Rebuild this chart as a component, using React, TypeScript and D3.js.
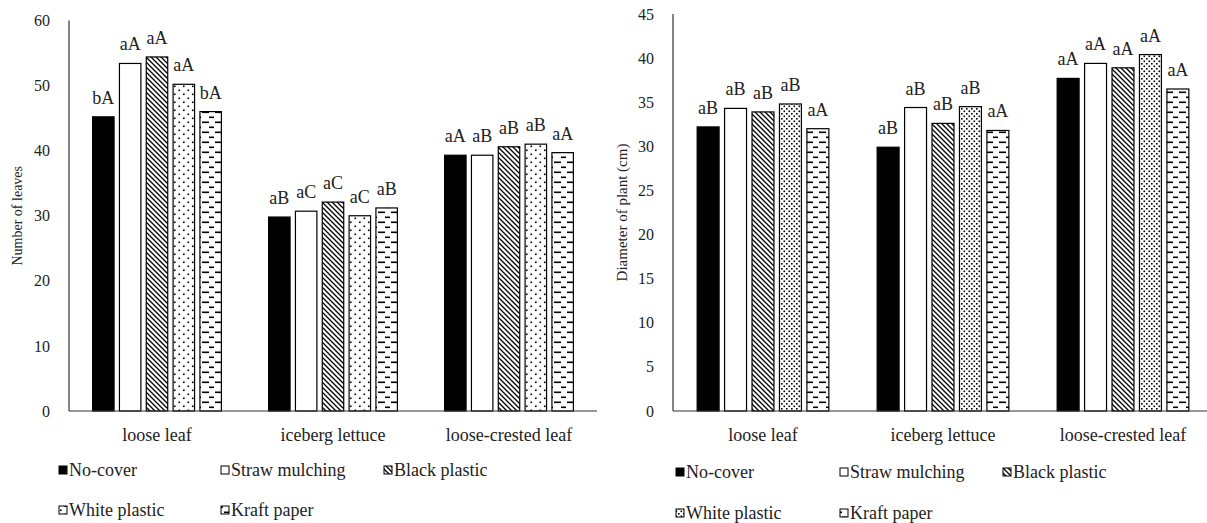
import React from 'react'
import * as d3 from 'd3'

// lettuce types on the x axis
const categories = ['loose leaf', 'iceberg lettuce', 'loose-crested leaf']
const treatments = ['No-cover', 'Straw mulching', 'Black plastic', 'White plastic', 'Kraft paper']

// number of leaves, one row per lettuce type, one column per treatment
const leavesValues = [
	[45.2, 53.4, 54.4, 50.2, 46.0],
	[29.8, 30.7, 32.1, 30.0, 31.2],
	[39.3, 39.3, 40.6, 41.0, 39.7],
]
const leavesLetters = [
	['bA', 'aA', 'aA', 'aA', 'bA'],
	['aB', 'aC', 'aC', 'aC', 'aB'],
	['aA', 'aB', 'aB', 'aB', 'aA'],
]
const leavesTicks = [0, 10, 20, 30, 40, 50, 60]

// diameter of plant (cm)
const diameterValues = [
	[32.2, 34.3, 33.9, 34.8, 32.0],
	[29.9, 34.4, 32.6, 34.5, 31.8],
	[37.7, 39.4, 38.9, 40.4, 36.5],
]
const diameterLetters = [
	['aB', 'aB', 'aB', 'aB', 'aA'],
	['aB', 'aB', 'aB', 'aB', 'aA'],
	['aA', 'aA', 'aA', 'aA', 'aA'],
]
const diameterTicks = [0, 5, 10, 15, 20, 25, 30, 35, 40, 45]

const FONT = "'Liberation Serif', 'Times New Roman', 'DejaVu Serif', serif"

const Patterns = ({ id, dense }) => (
	<defs>
		<pattern id={`${id}-hatch`} patternUnits='userSpaceOnUse' width={5} height={5}>
			<rect width={5} height={5} fill='#fff' />
			<path d='M0,0 L5,5 M-1,4 L1,6 M4,-1 L6,1' stroke='#000' strokeWidth={1.3} />
		</pattern>
		{dense ? (
			<pattern id={`${id}-dots`} patternUnits='userSpaceOnUse' width={5} height={5}>
				<rect width={5} height={5} fill='#fff' />
				<rect x={0.5} y={0.5} width={1.6} height={1.6} fill='#000' />
				<rect x={3} y={3} width={1.6} height={1.6} fill='#000' />
			</pattern>
		) : (
			<pattern id={`${id}-dots`} patternUnits='userSpaceOnUse' width={9} height={8}>
				<rect width={9} height={8} fill='#fff' />
				<rect x={1.5} y={1.5} width={1.6} height={1.6} fill='#000' />
				<rect x={6} y={5.5} width={1.6} height={1.6} fill='#000' />
			</pattern>
		)}
		<pattern id={`${id}-dash`} patternUnits='userSpaceOnUse' width={13} height={10}>
			<rect width={13} height={10} fill='#fff' />
			<rect x={3} y={1.5} width={7} height={1.6} fill='#000' />
			<rect x={-3} y={6.5} width={5} height={1.6} fill='#000' />
			<rect x={10} y={6.5} width={6} height={1.6} fill='#000' />
		</pattern>
	</defs>
)

const fillFor = (id, i) => ['#000', '#fff', `url(#${id}-hatch)`, `url(#${id}-dots)`, `url(#${id}-dash)`][i]

const Panel = ({ id, values, letters, ticks, yMax, xRange, yTop, title, titleSize, titleX, tickSize, legendX, legendY, dense }) => {
	const x0 = d3.scaleBand().domain(categories).range(xRange).padding(0)
	const x1 = d3
		.scaleBand()
		.domain(treatments)
		.range([0, x0.bandwidth()])
		.paddingInner(0.2)
		.paddingOuter(0.88)
	const y = d3.scaleLinear().domain([0, yMax]).range([411, yTop])
	const axisX = xRange[0]

	return (
		<g style={{ fontFamily: FONT }}>
			<Patterns id={id} dense={dense} />
			{ticks.map(t => (
				<text key={t} x={axisX - 19} y={y(t)} dy='0.35em' textAnchor='end' fontSize={tickSize} fill='#222'>
					{t}
				</text>
			))}
			<text
				transform={`translate(${titleX},${(y(0) + y(yMax)) / 2}) rotate(-90)`}
				textAnchor='middle'
				dy='0.35em'
				fontSize={titleSize}
				fill='#222'
			>
				{title}
			</text>
			{categories.map((c, ci) => (
				<g key={c} transform={`translate(${x0(c)},0)`}>
					{treatments.map((t, ti) => (
						<g key={t}>
							<rect
								x={x1(t)}
								y={y(values[ci][ti])}
								width={x1.bandwidth()}
								height={y(0) - y(values[ci][ti])}
								fill={fillFor(id, ti)}
								stroke='#000'
								strokeWidth={1.2}
							/>
							<text
								x={x1(t) + x1.bandwidth() / 2}
								y={y(values[ci][ti]) - 13}
								textAnchor='middle'
								fontSize={18}
								fill='#222'
							>
								{letters[ci][ti]}
							</text>
						</g>
					))}
					<text x={x0.bandwidth() / 2} y={435} dy='0.35em' textAnchor='middle' fontSize={18} fill='#222'>
						{c}
					</text>
				</g>
			))}
			<line x1={axisX} x2={axisX} y1={y(yMax)} y2={y(0)} stroke='#333' strokeWidth={1.2} />
			<line x1={axisX} x2={xRange[1]} y1={y(0)} y2={y(0)} stroke='#333' strokeWidth={1.2} />
			{treatments.map((t, ti) => {
				const lx = legendX[ti % 3]
				const ly = legendY[Math.floor(ti / 3)]
				return (
					<g key={t}>
						<rect x={lx} y={ly - 4} width={8} height={8} fill={fillFor(id, ti)} stroke='#000' strokeWidth={1} />
						<text x={lx + 10} y={ly} dy='0.35em' fontSize={18} fill='#222'>
							{t}
						</text>
					</g>
				)
			})}
		</g>
	)
}

const App = () => (
	<svg width={1207} height={523} style={{ position: 'absolute', left: 0, top: 0, background: '#fff' }}>
		<rect width={1207} height={523} fill='#fff' />
		<Panel
			id='leaves'
			values={leavesValues}
			letters={leavesLetters}
			ticks={leavesTicks}
			yMax={60}
			xRange={[69, 597]}
			yTop={20.5}
			title='Number of leaves'
			titleSize={14}
			titleX={17}
			tickSize={16}
			legendX={[59, 221, 384]}
			legendY={[470, 510]}
		/>
		<Panel
			id='diameter'
			values={diameterValues}
			letters={diameterLetters}
			ticks={diameterTicks}
			yMax={45}
			xRange={[673, 1213]}
			yTop={14}
			title='Diameter of plant (cm)'
			titleSize={15}
			titleX={622}
			tickSize={16}
			legendX={[676, 840, 1003]}
			legendY={[472, 513]}
			dense
		/>
	</svg>
)

export default App
